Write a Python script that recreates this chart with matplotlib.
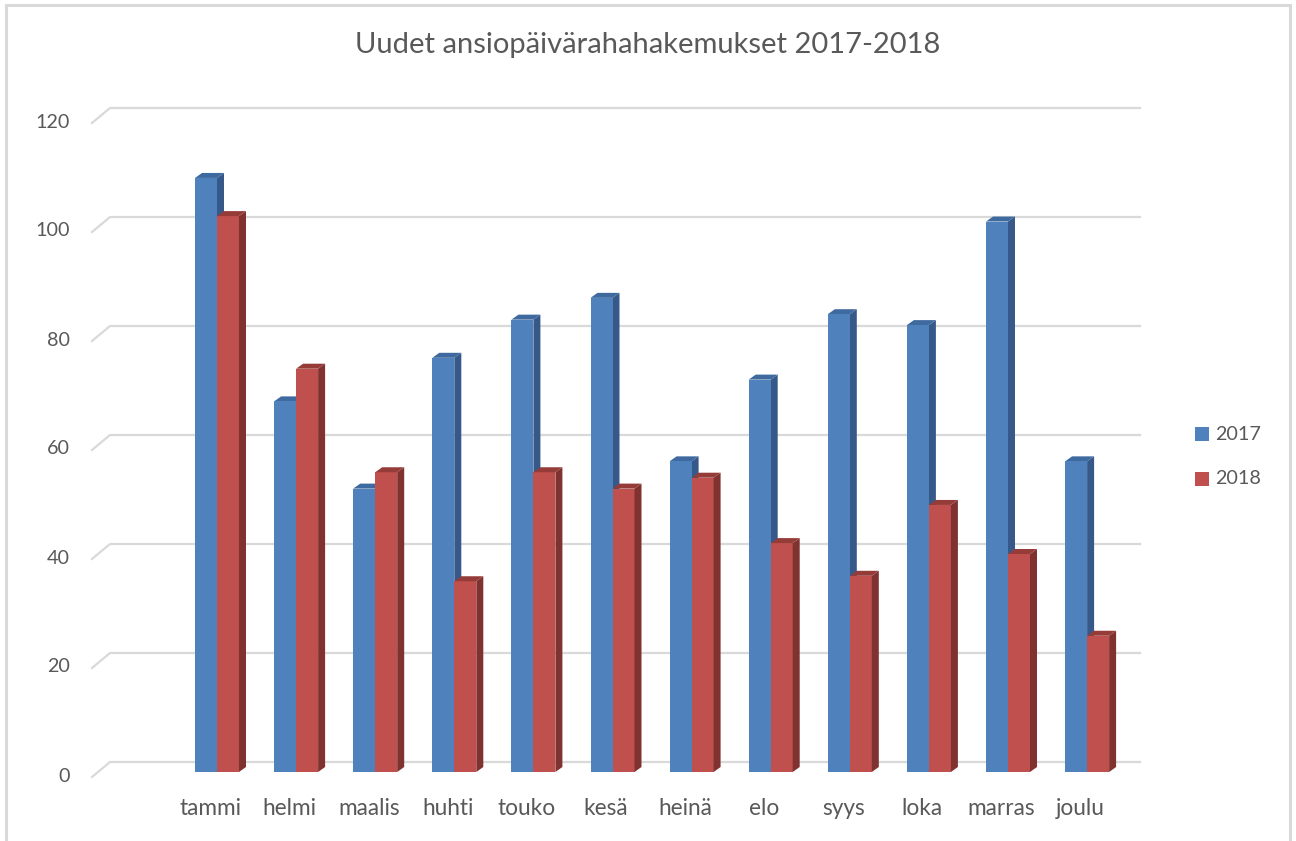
import matplotlib
matplotlib.use("Agg")
import matplotlib.pyplot as plt
from matplotlib.patches import Polygon
from matplotlib.lines import Line2D
import matplotlib.transforms as mtransforms
import numpy as np

# ---- data ----
months = ["tammi", "helmi", "maalis", "huhti", "touko", "kesä",
          "heinä", "elo", "syys", "loka", "marras", "joulu"]
v2017 = [109, 68, 52, 76, 83, 87, 57, 72, 84, 82, 101, 57]
v2018 = [102, 74, 55, 35, 55, 52, 54, 42, 36, 49, 40, 25]
series_names = ["2017", "2018"]
yticks = [0, 20, 40, 60, 80, 100, 120]
title = "Uudet ansiopäivärahahakemukset 2017-2018"

# ---- style ----
FONT = "Lato"
TXT = "#595959"
GRID = "#D9D9D9"
front_cols = ["#4F81BD", "#C0504D"]
side_cols = ["#36598A", "#7F3230"]
top_cols = ["#3F6A9F", "#953B38"]

W, H = 1296, 841
fig = plt.figure(figsize=(W / 100, H / 100), dpi=100)
fig.patch.set_facecolor("white")

# axes in bar-front plane (pixel geometry)
px_left, px_right = 97, 1127
px_bottom, px_top = 772, 118
pair0, step = 217, 79.1
ax = fig.add_axes([px_left / W, (H - px_bottom) / H,
                   (px_right - px_left) / W, (px_bottom - px_top) / H])
ax.set_xlim((px_left - pair0) / step, (px_right - pair0) / step)
ax.set_ylim(0, 120)
ax.axis("off")

# chart-area border
fig.add_artist(plt.Rectangle((6 / W, -0.05), (1290 - 6) / W, (H - 5) / H + 0.05,
                             transform=fig.transFigure, fill=False,
                             edgecolor="#D9D9D9", lw=2.2))

x = np.arange(len(months))
bw = 22 / step

# gridlines: front plane offset (-5,+5 img px), back wall offset (+13,-10 img px)
fig.canvas.draw()
for v in yticks:
    pl = ax.transData.transform((ax.get_xlim()[0], v))
    pr = ax.transData.transform((ax.get_xlim()[1], v))
    xs = [pl[0] - 5, pl[0] + 13, pr[0] + 13]
    ys = [pl[1] - 5, pl[1] + 10, pr[1] + 10]
    fig.add_artist(Line2D(np.array(xs) / W, np.array(ys) / H,
                          transform=fig.transFigure, color=GRID, lw=1.6,
                          zorder=0.5))

# bars with pseudo-3D depth
ddx, ddy = 7, 5  # display pixels
for s, vals in enumerate([v2017, v2018]):
    offs = (-bw / 2) if s == 0 else (bw / 2)
    bars = ax.bar(x + offs, vals, width=bw, color=front_cols[s],
                  edgecolor="none", zorder=2 + 2 * s, label=series_names[s])
    for rect in bars:
        x0 = rect.get_x()
        x1 = x0 + rect.get_width()
        h = rect.get_height()
        p10 = ax.transData.transform((x1, 0))
        p0h = ax.transData.transform((x0, h))
        p1h = ax.transData.transform((x1, h))
        side = [p10, p1h, p1h + (ddx, ddy), p10 + (ddx, ddy)]
        top = [p0h, p1h, p1h + (ddx, ddy), p0h + (ddx, ddy)]
        for poly, c in ((side, side_cols[s]), (top, top_cols[s])):
            pts = np.array(poly) / np.array([W, H])
            fig.add_artist(Polygon(pts, closed=True, transform=fig.transFigure,
                                   facecolor=c, edgecolor="none",
                                   zorder=1.9 + 2 * s))

ax.set_zorder(3)
ax.patch.set_alpha(0)

# y tick labels (front plane)
blend = mtransforms.blended_transform_factory(fig.transFigure, ax.transData)
ytr = mtransforms.offset_copy(blend, fig=fig, x=0, y=-4, units="dots")
for v in yticks:
    fig.text(70 / W, v, str(v), transform=ytr, ha="right", va="center",
             fontsize=14.2, color=TXT, family=FONT)

# category labels
ctr = mtransforms.offset_copy(ax.transData, fig=fig, x=-6.5, y=-43, units="dots")
for i, m in enumerate(months):
    ax.text(i, 0, m, transform=ctr, ha="center", va="baseline",
            fontsize=16.3, color=TXT, family=FONT, clip_on=False)

# title
fig.text(648 / W, (H - 45) / H, title, ha="center", va="center",
         fontsize=21, color=TXT, family=FONT)

# legend
for s, name in enumerate(series_names):
    yc = [434, 479][s]
    fig.add_artist(plt.Rectangle((1195 / W, (H - yc - 7) / H), 14 / W, 14 / H,
                                 transform=fig.transFigure,
                                 facecolor=front_cols[s], edgecolor="none"))
    fig.text(1215 / W, (H - yc) / H, name, ha="left", va="center",
             fontsize=14.2, color=TXT, family=FONT)

fig.savefig("out.png", dpi=100, facecolor="white")
